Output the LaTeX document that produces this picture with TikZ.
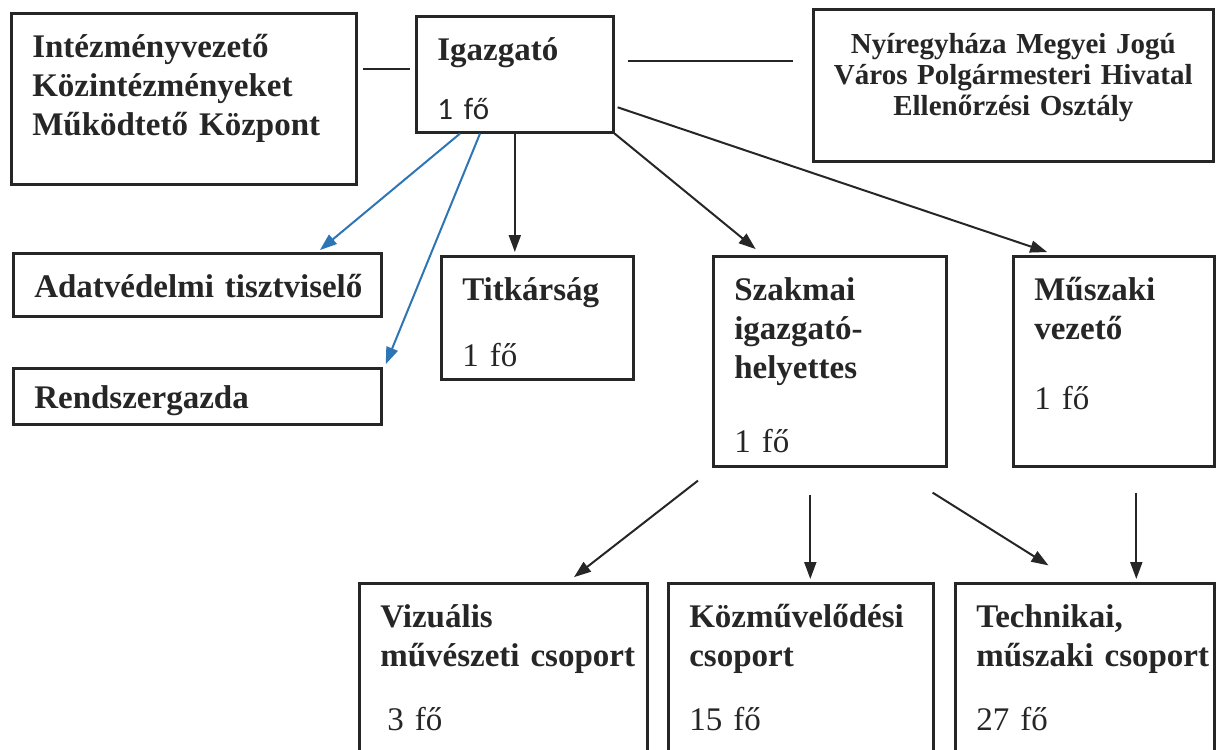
\documentclass[tikz,border=0pt]{standalone}
\usepackage{fontspec}
\setmainfont{Liberation Serif}
\newfontfamily\calibri{Carlito}
\usepackage{tikz}
\usetikzlibrary{calc}
\usetikzlibrary{positioning}
\usetikzlibrary{arrows.meta}
\hyphenpenalty=10000
\exhyphenpenalty=10000
\definecolor{tinta}{RGB}{38,38,38}
\definecolor{kek}{RGB}{46,117,182}
\tikzset{
	>={Triangle[length=17pt,width=12pt]},
	egyseg/.style={
		rectangle,
		draw=tinta, line width=2.6pt,
		text=tinta,
		inner xsep=21pt, inner ysep=0pt,
		text height=44pt,
		align=left,
		anchor=north west,
		font=\bfseries\fontsize{33}{39}\selectfont},
	line/.style={draw=tinta, line width=2pt},
	nyil/.style={line, ->, shorten >=3pt},
	kekny/.style={nyil, draw=kek},
}
\begin{document}
\begin{tikzpicture}
		[x=1pt, y=-1pt]
		\useasboundingbox (0,0) rectangle (1217,749);
		\clip (0,0) rectangle (1217,749);
		% felso sor
		\node[egyseg, text width=303pt, text depth=127pt] (intezmeny) at (10,12)
			{Intézményvezető\\Közintézményeket\\Működtető~Központ};
		\node[egyseg, text width=155pt, text depth=72pt] (igazgato) at (415,15)
			{Igazgató\\[20pt]{\calibri\mdseries\fontsize{31}{37}\selectfont 1 fő}};
		\node[egyseg, inner xsep=10pt, text width=380pt, align=center,
			font=\bfseries\fontsize{29}{31}\selectfont, text depth=108pt] (hivatal) at (812,8)
			{Nyíregyháza Megyei Jogú\\Város Polgármesteri Hivatal\\Ellenőrzési Osztály};
		% masodik sor
		\node[egyseg, text width=326pt, text depth=19pt] (adatved) at (12,252) {\mbox{Adatvédelmi tisztviselő}};
		\node[egyseg, text width=326pt, text height=40pt, text depth=16pt] (rendszer) at (12,367) {Rendszergazda};
		\node[egyseg, text width=150pt, text depth=79pt] (titkar) at (440,255)
			{Titkárság\\[27pt]{\mdseries 1 fő}};
		\node[egyseg, text width=191pt, text depth=166pt] (szakmai) at (712,255)
			{Szakmai\\igazgató-\\helyettes\\[35pt]{\mdseries 1 fő}};
		\node[egyseg, text width=159pt, text depth=166pt] (muszaki) at (1012,255)
			{Műszaki\\vezető\\[31pt]{\mdseries 1 fő}};
		% csoportok
		\node[egyseg, text width=246pt, text depth=190pt] (vizualis) at (358,582)
			{Vizuális\\\mbox{művészeti csoport}\\[25pt]{\mdseries\hspace*{7pt}3 fő}};
		\node[egyseg, text width=223pt, text depth=190pt] (kozmuv) at (667,582)
			{Közművelődési\\csoport\\[25pt]{\mdseries 15 fő}};
		\node[egyseg, text width=217pt, text depth=190pt] (technikai) at (954,582)
			{Technikai,\\\mbox{műszaki csoport}\\[25pt]{\mdseries 27 fő}};

		\draw[line] ($(intezmeny.east |- igazgato.west)+(5,-5)$) -- ($(igazgato.west)+(-5,-5)$);
		\draw[line] ($(igazgato.east)+(13,-13)$) -- ($(igazgato.east -| hivatal.west)+(-19,-13)$);

		\draw[kekny] ($(igazgato.south west)+(45,0)$) -- ($(adatved.north east)+(-65,0)$);
		\draw[kekny] ($(igazgato.south west)+(65,0)$) -- ($(rendszer.north east)+(2,0)$);
		\draw[nyil] (igazgato.south) -- (igazgato.south |- titkar.north);
		\draw[nyil] (igazgato.south east) -- ($(szakmai.north west)+(46,-4)$);
		\draw[nyil] ($(igazgato.east)+(3,33)$) -- ($(muszaki.north west)+(38,-2)$);

		\draw[nyil] ($(szakmai.south west)+(-14,13)$) -- ($(vizualis.north east)+(-77,-3)$);
		\draw[nyil] ($(szakmai.south)+(-19.5,27)$) -- ($(kozmuv.north)+(9.5,0)$);
		\draw[nyil] ($(szakmai.south east)+(-15,25)$) -- ($(technikai.north west)+(97,-15)$);
		\draw[nyil] ($(muszaki.south)+(22.5,25)$) -- ($(technikai.north)+(51.5,0)$);
\end{tikzpicture}
\end{document}
